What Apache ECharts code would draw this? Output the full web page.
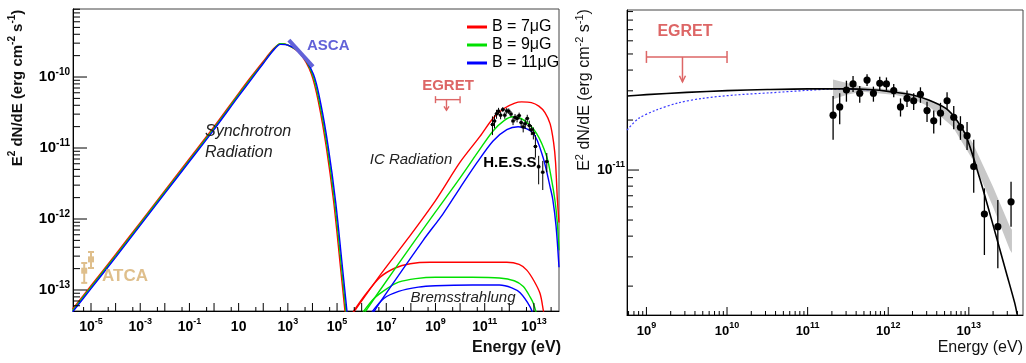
<!DOCTYPE html>
<html><head><meta charset="utf-8">
<script src="https://cdn.jsdelivr.net/npm/echarts@6/dist/echarts.min.js"></script>
<style>html,body{margin:0;padding:0;background:#fff}#c{width:1026px;height:363px}</style>
</head><body><div id="c"></div>
<script>
// ================= DATA =================
// Legend names
const nameR = 'B = 7\u03BCG', nameG = 'B = 9\u03BCG', nameB = 'B = 11\u03BCG';

// Left panel model curves, stored as [log10(E/eV), log10(E^2 dN/dE)]
const syncRedLog = [[-5.75,-13.27],[-5,-12.94],[-4,-12.50],[-3,-12.05],[-2,-11.60],[-1,-11.15],[0,-10.70],[1,-10.23],[1.5,-10.00],[2,-9.78],[2.4,-9.61],[2.7,-9.53],[3.0,-9.55],[3.5,-9.67],[3.96,-9.96],[4.26,-10.38],[4.56,-10.98],[4.86,-11.75],[5.16,-12.75],[5.41,-13.6]];
const syncGreenLog = [[-5.75,-13.29],[-5,-12.96],[-4,-12.52],[-3,-12.07],[-2,-11.62],[-1,-11.17],[0,-10.72],[1,-10.25],[1.5,-10.02],[2,-9.80],[2.4,-9.62],[2.7,-9.53],[3.0,-9.55],[3.5,-9.66],[4.0,-9.96],[4.3,-10.38],[4.6,-10.98],[4.9,-11.75],[5.2,-12.75],[5.45,-13.6]];
const syncBlueLog = [[-5.75,-13.31],[-5,-12.98],[-4,-12.54],[-3,-12.09],[-2,-11.64],[-1,-11.19],[0,-10.74],[1,-10.27],[1.5,-10.04],[2,-9.81],[2.4,-9.63],[2.7,-9.54],[3.0,-9.55],[3.5,-9.66],[4.04,-9.96],[4.34,-10.38],[4.64,-10.98],[4.94,-11.75],[5.24,-12.75],[5.49,-13.6]];

const icRedLog = [[5.6,-13.35],[6.75,-12.79],[7.89,-12.27],[9,-11.74],[10,-11.2],[10.8,-10.84],[11.34,-10.58],[11.8,-10.44],[12.2,-10.37],[12.5,-10.35],[12.9,-10.36],[13.2,-10.41],[13.45,-10.5],[13.66,-10.66],[13.8,-10.92],[13.88,-11.2],[13.95,-11.7],[14.02,-12.05]];
const icGreenLog = [[6.06,-13.35],[6.75,-13.0],[8.17,-12.30],[9,-11.90],[10,-11.42],[10.8,-11.02],[11.34,-10.76],[11.8,-10.61],[12.15,-10.56],[12.6,-10.61],[13.1,-10.79],[13.52,-11.12],[13.72,-11.45],[13.86,-11.75],[13.95,-12.05],[14.02,-12.44]];
const icBlueLog = [[6.42,-13.35],[6.75,-13.17],[8.5,-12.30],[9.3,-11.93],[10,-11.56],[10.7,-11.2],[11.34,-10.9],[11.9,-10.74],[12.36,-10.70],[12.97,-10.79],[13.37,-11.13],[13.66,-11.55],[13.77,-11.73],[13.9,-12.1],[14.02,-12.68]];

const bremsRedLog = [[5.65,-13.31],[6.14,-13.07],[6.75,-12.82],[7.36,-12.69],[7.97,-12.63],[8.78,-12.61],[10.3,-12.61],[11.9,-12.61],[12.4,-12.64],[12.71,-12.72],[13.0,-12.87],[13.25,-13.05],[13.39,-13.3],[13.5,-13.5]];
const bremsGreenLog = [[6.06,-13.31],[6.5,-13.12],[7.03,-12.98],[7.5,-12.89],[8.2,-12.84],[9,-12.82],[10.5,-12.82],[11.6,-12.83],[12.2,-12.87],[12.57,-12.95],[12.85,-13.1],[12.98,-13.19],[13.12,-13.35]];
const bremsBlueLog = [[6.42,-13.31],[6.9,-13.12],[7.5,-13.02],[8.3,-12.96],[9,-12.94],[10.5,-12.93],[11.6,-12.93],[12.1,-12.97],[12.44,-13.04],[12.85,-13.24],[13.0,-13.38]];

// ASCA (X-ray) line, [E, flux]
const ascaE = [1.1e3, 1.05e4];
const ascaF = [3.3e-10, 1.4e-10];

// ATCA radio points
const atcaE = [5.3e-6, 1.0e-5];
const atcaF = [1.87e-13, 2.70e-13];
const atcaELo = [4.6e-6, 8.6e-6];
const atcaEHi = [6.1e-6, 1.16e-5];
const atcaFLo = [1.26e-13, 2.04e-13];
const atcaFHi = [2.4e-13, 3.43e-13];

// EGRET upper limit
const egretEMin = 1e9, egretEMax = 1e10, egretF = 4.8e-11;
const egretArrowE = 2.8e9, egretArrowF = 3.4e-11;

// H.E.S.S. spectral points
const hessE = [2.07e11,2.50e11,3.03e11,3.66e11,4.43e11,5.46e11,6.55e11,7.85e11,9.50e11,1.17e12,1.42e12,1.71e12,2.07e12,2.51e12,3.03e12,3.67e12,4.45e12,5.37e12,6.50e12,7.87e12,9.51e12,1.15e13,1.56e13,2.29e13,3.34e13];
const hessF = [2.14e-11,2.40e-11,3.03e-11,3.30e-11,2.90e-11,3.48e-11,2.90e-11,3.33e-11,3.30e-11,3.01e-11,2.40e-11,2.70e-11,2.61e-11,2.86e-11,2.28e-11,1.98e-11,2.20e-11,2.61e-11,2.08e-11,1.81e-11,1.61e-11,1.05e-11,5.43e-12,4.56e-12,6.44e-12];
const hessHi = [2.79e-11,2.90e-11,3.45e-11,3.68e-11,3.21e-11,3.78e-11,3.18e-11,3.65e-11,3.61e-11,3.30e-11,2.70e-11,3.01e-11,2.90e-11,3.15e-11,2.58e-11,2.28e-11,2.54e-11,2.94e-11,2.43e-11,2.11e-11,1.95e-11,1.52e-11,7.76e-12,6.59e-12,8.51e-12];
const hessLo = [1.52e-11,1.89e-11,2.58e-11,2.95e-11,2.54e-11,3.21e-11,2.58e-11,3.03e-11,3.01e-11,2.74e-11,2.10e-11,2.40e-11,2.30e-11,2.54e-11,1.95e-11,1.66e-11,1.86e-11,2.32e-11,1.76e-11,1.52e-11,1.32e-11,7.30e-12,3.08e-12,2.56e-12,4.56e-12];

// Right panel fit curve, dotted model, error band  ([log10 E, log10 F])
const fitLog = [[8.76,-10.554],[9,-10.546],[9.5,-10.532],[10,-10.522],[10.5,-10.515],[11,-10.511],[11.5,-10.511],[11.8,-10.516],[12.0,-10.526],[12.3,-10.548],[12.5,-10.578],[12.72,-10.63],[12.85,-10.70],[12.97,-10.80],[13.135,-11.05],[13.3,-11.33],[13.466,-11.62],[13.569,-11.80],[13.6,-11.87]];
const dotLog = [[8.76,-10.759],[8.9,-10.69],[9.12,-10.639],[9.4,-10.595],[9.7,-10.568],[10.1,-10.548],[10.53,-10.535],[11.0,-10.52],[11.3,-10.513],[11.8,-10.516]];
const bandLog = [[11.315,-10.574,-10.454],[11.5,-10.545,-10.478],[11.68,-10.528,-10.498],[12.09,-10.548,-10.518],[12.3,-10.57,-10.54],[12.51,-10.619,-10.574],[12.8,-10.739,-10.658],[13.05,-10.94,-10.839],[13.3,-11.221,-11.10],[13.51,-11.482,-11.341],[13.535,-11.50,-11.36]];

// Axis ranges and ticks
const leftXRange = [1.854e-6, 1.047e14], leftYRange = [5.06e-14, 9.08e-10];
const rightXRange = [5.74e8, 4.70e13], rightYRange = [1.34e-12, 9.2e-11];
const leftXMajorExp = [-5,-4,-3,-2,-1,0,1,2,3,4,5,6,7,8,9,10,11,12,13];
const leftXMinorExp = [-6,-5,-4,-3,-2,-1,0,1,2,3,4,5,6,7,8,9,10,11,12,13]; // ticks at 5x10^n
const leftXLabelExp = [-5,-3,-1,1,3,5,7,9,11,13];
const leftYMajorExp = [-13,-12,-11,-10];
const leftYMinorDecades = [-14,-13,-12,-11,-10];
const rightXMajorExp = [9,10,11,12,13];
const rightXMinorDecades = [8,9,10,11,12,13];
const rightYMajorExp = [-11];
const rightYMinorDecades = [-12,-11];
const minorMult = [2,3,4,5,6,7,8,9];

// ================= BUILD =================
const FONT = '"Liberation Sans", Arial, Helvetica, sans-serif';
const p10 = v => Math.pow(10, v);
const toPts = arr => arr.map(([e, f]) => [p10(e), p10(f)]);
const inR = (v, r) => v > r[0] && v < r[1];
const RED = '#ff0000', GREEN = '#00e000', BLUE = '#0000ff';

function curve(name, color, data, gi, width, extra) {
  return Object.assign({
    type: 'line', name, xAxisIndex: gi, yAxisIndex: gi, data: toPts(data),
    showSymbol: false, symbol: 'none', smooth: 0.3,
    lineStyle: { color, width: width || 1.4 }, itemStyle: { color },
    silent: true, animation: false, z: 3
  }, extra || {});
}

function tickSeries(gi, dir, items) {
  return {
    type: 'custom', xAxisIndex: gi, yAxisIndex: gi, silent: true, animation: false, z: 10,
    data: items, encode: { x: 0, y: 1 },
    renderItem: (params, api) => {
      const p = api.coord([api.value(0), api.value(1)]);
      const len = api.value(2);
      const shape = dir === 'x' ? { x1: p[0], y1: p[1], x2: p[0], y2: p[1] - len }
                                : { x1: p[0], y1: p[1], x2: p[0] + len, y2: p[1] };
      return { type: 'line', shape, style: { stroke: '#000', lineWidth: 1 } };
    }
  };
}

function labelSeries(gi, dir, items, size, supSize, offset) {
  return {
    type: 'custom', xAxisIndex: gi, yAxisIndex: gi, silent: true, animation: false, z: 10,
    data: items, encode: { x: 0, y: 1 },
    renderItem: (params, api) => {
      const p = api.coord([api.value(0), api.value(1)]);
      const n = api.value(2);
      const text = n === 1 ? '{b|10}' : '{b|10}{s|' + n + '}';
      const style = {
        text, fill: '#000',
        rich: {
          b: { fontSize: size, fontWeight: 'bold', fontFamily: FONT, lineHeight: 20, verticalAlign: 'middle' },
          s: { fontSize: supSize, fontWeight: 'bold', fontFamily: FONT, lineHeight: 9, verticalAlign: 'top' }
        }
      };
      if (dir === 'x') { style.align = 'center'; style.verticalAlign = 'top'; return { type: 'text', x: p[0], y: p[1] + offset, style }; }
      style.align = 'right'; style.verticalAlign = 'middle';
      return { type: 'text', x: p[0] - offset, y: p[1], style };
    }
  };
}

function minorList(decades, range) {
  const out = [];
  decades.forEach(d => minorMult.forEach(m => { const v = m * p10(d); if (inR(v, range)) out.push(v); }));
  return out;
}

function hessSeries(gi, big) {
  return {
    type: 'custom', xAxisIndex: gi, yAxisIndex: gi, silent: true, animation: false, z: 6,
    data: hessE.map((e, i) => [e, hessF[i], hessLo[i], hessHi[i]]), encode: { x: 0, y: [1, 2, 3] },
    renderItem: (params, api) => {
      const e = api.value(0);
      const p = api.coord([e, api.value(1)]);
      const a = api.coord([e, api.value(3)]);
      const b = api.coord([e, api.value(2)]);
      const kids = [{ type: 'line', shape: { x1: a[0], y1: a[1], x2: b[0], y2: b[1] }, style: { stroke: '#000', lineWidth: big ? 1.3 : 1 } }];
      if (big) kids.push({ type: 'circle', shape: { cx: p[0], cy: p[1], r: 3.6 }, style: { fill: '#000' } });
      else kids.push({ type: 'rect', shape: { x: p[0] - 1.5, y: p[1] - 1.5, width: 3, height: 3 }, style: { fill: '#000' } },
                     { type: 'line', shape: { x1: p[0] - 2, y1: p[1], x2: p[0] + 2, y2: p[1] }, style: { stroke: '#000', lineWidth: 1 } });
      return { type: 'group', children: kids };
    }
  };
}

function egretSeries(gi, cap, arrowW, arrowH, lw) {
  return {
    type: 'custom', xAxisIndex: gi, yAxisIndex: gi, silent: true, animation: false, z: 6,
    data: [[egretEMin, egretEMax, egretF, egretArrowE, egretArrowF]], encode: { x: [0, 1, 3], y: [2, 4] },
    renderItem: (params, api) => {
      const c = '#dd6666';
      const a = api.coord([api.value(0), api.value(2)]);
      const b = api.coord([api.value(1), api.value(2)]);
      const s = api.coord([api.value(3), api.value(2)]);
      const t = api.coord([api.value(3), api.value(4)]);
      const st = { stroke: c, lineWidth: lw };
      return { type: 'group', children: [
        { type: 'line', shape: { x1: a[0], y1: a[1], x2: b[0], y2: b[1] }, style: st },
        { type: 'line', shape: { x1: a[0], y1: a[1] - cap, x2: a[0], y2: a[1] + cap }, style: st },
        { type: 'line', shape: { x1: b[0], y1: b[1] - cap, x2: b[0], y2: b[1] + cap }, style: st },
        { type: 'line', shape: { x1: s[0], y1: s[1], x2: t[0], y2: t[1] }, style: st },
        { type: 'polyline', shape: { points: [[t[0] - arrowW, t[1] - arrowH], [t[0], t[1]], [t[0] + arrowW, t[1] - arrowH]] }, style: { stroke: c, lineWidth: lw, fill: null } }
      ] };
    }
  };
}

const series = [];
series.push(curve(nameR, RED, bremsRedLog, 0));
series.push(curve(nameG, GREEN, bremsGreenLog, 0));
series.push(curve(nameB, BLUE, bremsBlueLog, 0));
series.push(curve(nameR, RED, icRedLog, 0));
series.push(curve(nameG, GREEN, icGreenLog, 0));
series.push(curve(nameB, BLUE, icBlueLog, 0));
series.push(curve(nameR, RED, syncRedLog, 0));
series.push(curve(nameG, GREEN, syncGreenLog, 0));
series.push(curve(nameB, BLUE, syncBlueLog, 0));
series.push({ type: 'line', name: 'ASCA', xAxisIndex: 0, yAxisIndex: 0, data: ascaE.map((e, i) => [e, ascaF[i]]),
  showSymbol: false, symbol: 'none', lineStyle: { color: '#6262d8', width: 4 }, silent: true, animation: false, z: 5 });
series.push({
  type: 'custom', xAxisIndex: 0, yAxisIndex: 0, silent: true, animation: false, z: 6,
  data: atcaE.map((e, i) => [e, atcaF[i], atcaELo[i], atcaEHi[i], atcaFLo[i], atcaFHi[i]]), encode: { x: [0, 2, 3], y: [1, 4, 5] },
  renderItem: (params, api) => {
    const c = '#dfbf8c';
    const p = api.coord([api.value(0), api.value(1)]);
    const l = api.coord([api.value(2), api.value(1)]);
    const r = api.coord([api.value(3), api.value(1)]);
    const lo = api.coord([api.value(0), api.value(4)]);
    const hi = api.coord([api.value(0), api.value(5)]);
    return { type: 'group', children: [
      { type: 'line', shape: { x1: l[0], y1: l[1], x2: r[0], y2: r[1] }, style: { stroke: c, lineWidth: 2 } },
      { type: 'line', shape: { x1: lo[0], y1: lo[1], x2: hi[0], y2: hi[1] }, style: { stroke: c, lineWidth: 2 } },
      { type: 'line', shape: { x1: hi[0] - 3, y1: hi[1], x2: hi[0] + 3, y2: hi[1] }, style: { stroke: c, lineWidth: 2 } },
      { type: 'line', shape: { x1: lo[0] - 3, y1: lo[1], x2: lo[0] + 3, y2: lo[1] }, style: { stroke: c, lineWidth: 2 } },
      { type: 'rect', shape: { x: p[0] - 3, y: p[1] - 3, width: 6, height: 6 }, style: { fill: c } }
    ] };
  }
});
series.push(egretSeries(0, 3.5, 2.5, 4, 1.4));
series.push(hessSeries(0, false));

series.push({
  type: 'custom', xAxisIndex: 1, yAxisIndex: 1, silent: true, animation: false, z: 2,
  data: bandLog.map(r => [p10(r[0]), p10(r[1]), p10(r[2])]), encode: { x: 0, y: [1, 2] },
  renderItem: (params, api) => {
    if (params.dataIndexInside !== 0) return null;
    const n = params.dataInsideLength;
    const up = [], dn = [];
    for (let j = 0; j < n; j++) {
      up.push(api.coord([api.value(0, j), api.value(2, j)]));
      dn.push(api.coord([api.value(0, j), api.value(1, j)]));
    }
    return { type: 'polygon', shape: { points: up.concat(dn.reverse()) }, style: { fill: '#c8c8c8' } };
  }
});
series.push(curve('dotted', '#3a3aff', dotLog, 1, 1.2, { lineStyle: { color: '#3a3aff', width: 1.2, type: [2, 2] }, z: 4 }));
series.push(curve('fit', '#000', fitLog, 1, 1.6, { z: 5 }));
series.push(egretSeries(1, 6, 3, 6, 1.5));
series.push(hessSeries(1, true));

series.push(tickSeries(0, 'x', leftXMajorExp.map(n => [p10(n), leftYRange[0], 8])));
series.push(tickSeries(0, 'x', leftXMinorExp.map(n => 5 * p10(n)).filter(v => inR(v, leftXRange)).map(v => [v, leftYRange[0], 4])));
series.push(tickSeries(0, 'y', leftYMajorExp.map(n => [leftXRange[0], p10(n), 14])));
series.push(tickSeries(0, 'y', minorList(leftYMinorDecades, leftYRange).map(v => [leftXRange[0], v, 7])));
series.push(labelSeries(0, 'x', leftXLabelExp.map(n => [p10(n), leftYRange[0], n]), 14, 9, 6));
series.push(labelSeries(0, 'y', leftYMajorExp.map(n => [leftXRange[0], p10(n), n]), 15, 10, 3));

series.push(tickSeries(1, 'x', rightXMajorExp.map(n => [p10(n), rightYRange[0], 8])));
series.push(tickSeries(1, 'x', minorList(rightXMinorDecades, rightXRange).map(v => [v, rightYRange[0], 4])));
series.push(tickSeries(1, 'y', rightYMajorExp.map(n => [rightXRange[0], p10(n), 12])));
series.push(tickSeries(1, 'y', minorList(rightYMinorDecades, rightYRange).map(v => [rightXRange[0], v, 6])));
series.push(labelSeries(1, 'x', rightXMajorExp.map(n => [p10(n), rightYRange[0], n]), 13, 9, 6));
series.push(labelSeries(1, 'y', rightYMajorExp.map(n => [rightXRange[0], p10(n), n]), 14, 9, 2));

function axis(gi, range) {
  return { type: 'log', logBase: 10, gridIndex: gi, min: range[0], max: range[1],
    axisLine: { show: true, onZero: false, lineStyle: { color: '#000', width: 1 } },
    axisTick: { show: false }, axisLabel: { show: false }, splitLine: { show: false }, minorTick: { show: false } };
}

const richTitle = (size, weight) => ({
  n: { fontSize: size, fontWeight: weight, fontFamily: FONT, lineHeight: 22, verticalAlign: 'middle' },
  s: { fontSize: Math.round(size * 0.66), fontWeight: weight, fontFamily: FONT, lineHeight: 12, verticalAlign: 'top' }
});
const titleText = '{n|E}{s|2}{n| dN/dE (erg cm}{s|-2}{n| s}{s|-1}{n|)}';
const txt = (x, y, text, opts) => ({ type: 'text', x, y, silent: true, z: 20,
  style: Object.assign({ text, fill: '#222', fontFamily: FONT, fontSize: 16, align: 'left', verticalAlign: 'middle' }, opts || {}) });

const chart = echarts.init(document.getElementById('c'), null, { renderer: 'canvas' });
chart.setOption({
  animation: false,
  backgroundColor: '#fff',
  grid: [
    { left: 73, top: 9, width: 486, height: 302, show: true, borderColor: '#444', borderWidth: 1, containLabel: false },
    { left: 627, top: 10, width: 396, height: 305, show: true, borderColor: '#444', borderWidth: 1, containLabel: false }
  ],
  xAxis: [axis(0, leftXRange), axis(1, rightXRange)],
  yAxis: [axis(0, leftYRange), axis(1, rightYRange)],
  legend: {
    data: [nameR, nameG, nameB], orient: 'vertical', left: 462, top: 14, icon: 'rect',
    itemWidth: 20, itemHeight: 3, itemGap: 2, selectedMode: false,
    textStyle: { fontFamily: FONT, fontSize: 16, color: '#000', lineHeight: 16 }
  },
  series,
  graphic: [
    { type: 'text', x: 18, y: 88, rotation: Math.PI / 2, silent: true,
      style: { text: titleText, rich: richTitle(15, 'bold'), align: 'center', verticalAlign: 'middle', fill: '#111' } },
    { type: 'text', x: 585, y: 90, rotation: Math.PI / 2, silent: true,
      style: { text: titleText, rich: richTitle(16, 'normal'), align: 'center', verticalAlign: 'middle', fill: '#111' } },
    txt(561, 348, 'Energy (eV)', { align: 'right', fontWeight: 'bold', fontSize: 16, fill: '#111' }),
    txt(1023, 348, 'Energy (eV)', { align: 'right', fontSize: 16, fill: '#111' }),
    txt(205, 132, 'Synchrotron', { fontStyle: 'italic', fontSize: 16 }),
    txt(205, 153, 'Radiation', { fontStyle: 'italic', fontSize: 16 }),
    txt(411, 160, 'IC Radiation', { fontStyle: 'italic', fontSize: 15, align: 'center' }),
    txt(463, 298, 'Bremsstrahlung', { fontStyle: 'italic', fontSize: 15, align: 'center' }),
    txt(512, 163, 'H.E.S.S.', { fontWeight: 'bold', fontSize: 15, align: 'center', fill: '#000' }),
    txt(307, 46, 'ASCA', { fontWeight: 'bold', fontSize: 15, fill: '#6262d8' }),
    txt(102, 276, 'ATCA', { fontWeight: 'bold', fontSize: 17, fill: '#dfbf8c' }),
    txt(448, 86, 'EGRET', { fontWeight: 'bold', fontSize: 15, align: 'center', fill: '#dd6666' }),
    txt(685, 32, 'EGRET', { fontWeight: 'bold', fontSize: 16, align: 'center', fill: '#dd6666' })
  ]
});
</script>
</body></html>
